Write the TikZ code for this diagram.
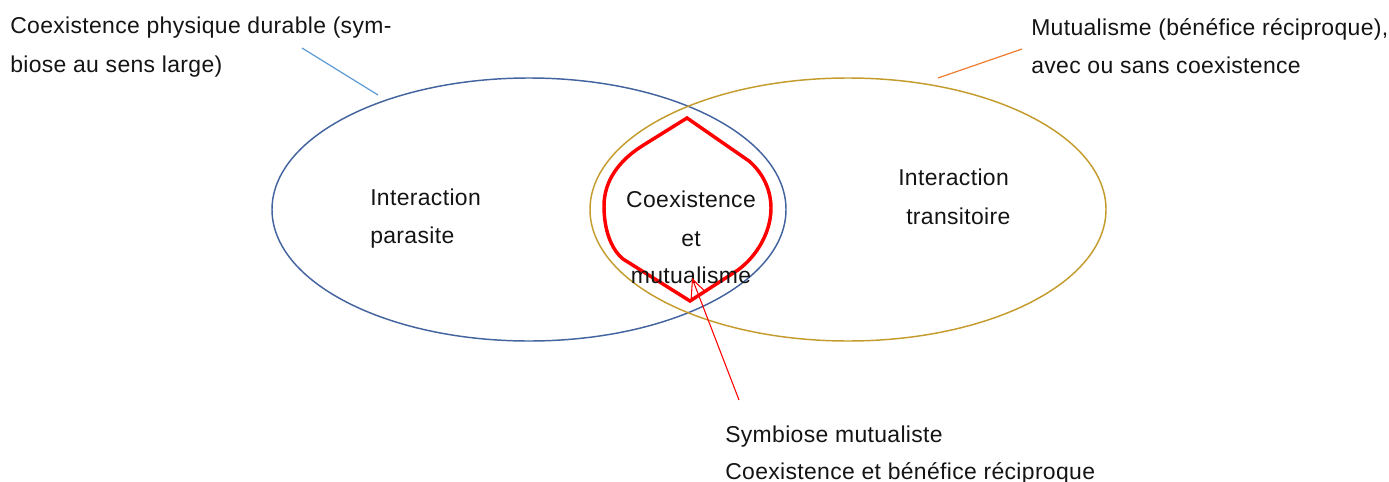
\documentclass[tikz,border=0pt]{standalone}
\usepackage{fontspec}
\setmainfont{Liberation Sans}[LetterSpace=1.5]
\usetikzlibrary{arrows.meta,shapes.geometric}
\definecolor{ellblue}{RGB}{68,100,160}
\definecolor{ellgold}{RGB}{196,155,45}
\definecolor{leadblue}{RGB}{91,155,213}
\definecolor{leadorange}{RGB}{237,125,49}
\definecolor{txt}{RGB}{20,20,20}
\tikzset{
  lbl/.style={anchor=base west,inner sep=0pt,text=txt,font=\fontsize{17.2}{20}\selectfont},
  clbl/.style={anchor=base,inner sep=0pt,text=txt,font=\fontsize{17.2}{20}\selectfont},
  setell/.style={ellipse,draw,line width=1.1pt,inner sep=0pt,minimum width=385.5pt,minimum height=197.25pt},
  leader/.style={line width=0.9pt},
  redshape/.style={draw=red,line width=2.6pt,line join=miter},
  redarrow/.style={draw=red,line width=0.8pt,-{Straight Barb[length=13pt,width=12pt,line width=0.8pt]}}
}
\begin{document}
\begin{tikzpicture}[x=0.75pt,y=-0.75pt]
\useasboundingbox (0,0) rectangle (1389,482);
% sets
\node[setell,draw=ellblue] (blue) at (529,209.5) {};
\node[setell,draw=ellgold,minimum width=387pt] (gold) at (848,209.5) {};
% red lens
\path[redshape] (687,118) -- (749,161)
  .. controls (763,173) and (771,190) .. (771,208)
  .. controls (771,232) and (757,256) .. (738,270)
  -- (690,301) -- (623,259)
  .. controls (610,248) and (604,228) .. (604,206)
  .. controls (604,180) and (620,160) .. (642,146) -- cycle;
% labels
\node[lbl] (t1a) at (10,33) {Coexistence physique durable (sym-};
\node[lbl] (t1b) at (10,72) {biose au sens large)};
\node[lbl] (t2a) at (1031,35) {Mutualisme (bénéfice réciproque),};
\node[lbl] (t2b) at (1031,73) {avec ou sans coexistence};
\node[lbl] (p1) at (370,205) {Interaction};
\node[lbl] (p2) at (370,243) {parasite};
\node[lbl] (r1) at (898,185) {Interaction};
\node[lbl] (r2) at (906,224) {transitoire};
\node[clbl] (c1) at (691,207) {Coexistence};
\node[clbl] (c2) at (691,246) {et};
\node[clbl] (c3) at (691,283) {mutualisme};
\node[lbl] (s1) at (725,442) {Symbiose mutualiste};
\node[lbl] (s2) at (725,479) {Coexistence et bénéfice réciproque};
% leader lines
\coordinate (lb1) at (302,48);
\coordinate (lb2) at (378,95);
\coordinate (lo1) at (1022,49);
\coordinate (lo2) at (938,78);
\coordinate (ra1) at (739,400);
\coordinate (ra2) at (692,278);
\draw[leader,leadblue] (lb1) -- (lb2);
\draw[leader,leadorange] (lo1) -- (lo2);
\draw[redarrow] (ra1) -- (ra2);
\end{tikzpicture}
\end{document}
